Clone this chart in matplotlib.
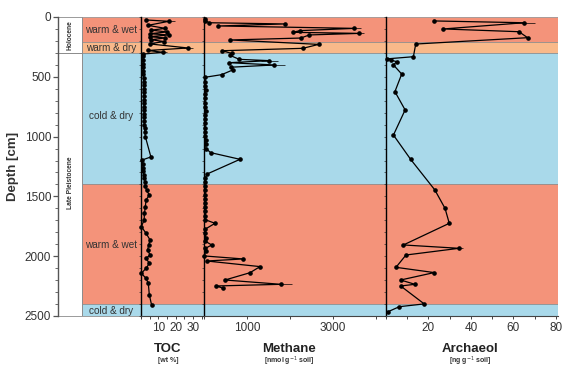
import matplotlib
matplotlib.use("Agg")
import matplotlib.pyplot as plt
from matplotlib.patches import Rectangle
from matplotlib.ticker import FixedLocator, MultipleLocator, NullFormatter

plt.rcParams['font.family'] = ['Liberation Sans', 'DejaVu Sans']

# ---- climate zones ----
zone_top = [0, 210, 300, 1400, 2400]
zone_bottom = [210, 300, 1400, 2400, 2500]
zone_label = ['warm & wet', 'warm & dry', 'cold & dry', 'warm & wet', 'cold & dry']
zone_label_depth = [110, 258, 830, 1905, 2455]
zone_color = ['#F4937A', '#F9B98A', '#A9D9EA', '#F4937A', '#A9D9EA']

era_label = ['Holocene', 'Late Pleistocene']
era_top = [0, 300]
era_bottom = [300, 2500]
era_label_depth = [150, 1390]

# ---- TOC [wt %] ----
toc_depth = [25, 36, 70, 95, 110, 125, 140, 150, 165, 175, 190, 205, 225, 259, 280, 295, 310,
             330, 360, 390, 420, 450, 480, 510, 540, 570, 600, 630, 660, 690, 720, 750, 780,
             810, 840, 870, 900, 930, 960, 1000, 1170, 1195, 1230, 1260, 1290, 1320, 1350, 1377,
             1413, 1450, 1488, 1530, 1586, 1641, 1697, 1753, 1808, 1864, 1906, 1948, 1990, 2018,
             2059, 2100, 2143, 2185, 2227, 2324, 2408]
toc_val = [3.0, 16.0, 4.0, 14.0, 6.0, 15.0, 5.0, 16.0, 5.0, 14.0, 6.0, 13.0, 5.0, 27.0, 4.0, 12.5, 1.2,
           1.0, 1.1, 1.2, 1.3, 1.3, 1.4, 1.5, 1.5, 1.6, 1.7, 1.6, 1.7, 1.8, 1.8, 1.7, 1.8,
           1.9, 1.9, 2.0, 2.0, 2.1, 2.2, 2.5, 5.7, 0.8, 1.0, 1.2, 1.4, 1.6, 1.8, 2.5,
           2.5, 3.2, 4.8, 2.9, 2.5, 2.0, 1.8, 0.2, 2.9, 5.2, 4.4, 3.8, 5.2, 2.9,
           4.8, 3.0, 0.2, 2.9, 4.2, 4.8, 6.1]
toc_err_depth = [36, 259, 295]
toc_err = [3.5, 3.0, 2.5]

# ---- Methane [nmol g-1 soil] ----
met_depth = [20, 31, 48, 58, 75, 95, 114, 128, 137, 150, 176, 192, 229, 262, 282, 304, 320,
             354, 365, 382, 401, 420, 443, 482, 504, 540, 575, 610, 645, 680, 715, 750, 785,
             820, 855, 890, 925, 960, 995, 1030, 1065, 1100, 1134, 1190, 1312, 1345, 1380,
             1415, 1450, 1485, 1520, 1555, 1590, 1625, 1660, 1695, 1725, 1775, 1810, 1845,
             1875, 1906, 1935, 1960, 1998, 2023, 2040, 2087, 2138, 2199, 2235, 2249, 2268]
met_val = [20, 25, 124, 1884, 333, 3496, 2233, 2063, 3612, 2450, 2250, 605, 2668, 2296, 411, 644, 600,
           821, 1519, 588, 1628, 620, 667, 411, 25, 30, 28, 35, 30, 32, 28, 30, 35,
           30, 33, 28, 30, 32, 30, 35, 40, 45, 155, 837, 77, 30, 28,
           25, 30, 28, 32, 30, 28, 30, 32, 30, 256, 23, 30, 35,
           30, 179, 30, 35, 10, 914, 62, 1303, 1070, 488, 1790, 279, 449]
met_err_depth = [95, 137, 365, 401, 2235]
met_err = [150, 120, 200, 250, 250]

# ---- Archaeol [ng g-1 soil] ----
arc_depth = [33, 48, 100, 123, 173, 226, 332, 350, 362, 373, 401, 477, 624, 777, 987, 1190,
             1446, 1600, 1725, 1906, 1934, 1990, 2093, 2137, 2199, 2235, 2249, 2399, 2422, 2463]
arc_val = [22.7, 65.0, 27.0, 62.6, 66.7, 14.0, 12.9, 0.5, 2.5, 5.0, 3.5, 7.4, 4.2, 9.0, 3.5, 11.6,
           23.0, 27.8, 29.8, 8.2, 34.4, 9.4, 4.7, 22.7, 6.9, 13.6, 6.9, 18.0, 6.3, 1.1]
arc_err_depth = [48, 1934]
arc_err = [5.0, 2.0]

# ---- figure layout (pixel helpers) ----
W, H = 563, 367
TOP, BOT = 17, 316
fig = plt.figure(figsize=(W / 100, H / 100), dpi=100)


def box(x0, x1):
    return [x0 / W, 1 - BOT / H, (x1 - x0) / W, (BOT - TOP) / H]


AX_L, BAND_L, AX_R = 58, 82, 558
ax = fig.add_axes(box(AX_L, AX_R))
ax.set_xlim(AX_L, AX_R)
ax.set_ylim(2500, 0)

for t, b, c in zip(zone_top, zone_bottom, zone_color):
    ax.add_patch(Rectangle((BAND_L, t), AX_R - BAND_L, b - t, facecolor=c,
                           edgecolor='#8a8a8a', linewidth=0.5, zorder=0))
for lab, d in zip(zone_label, zone_label_depth):
    ax.text(111, d, lab, ha='center', va='center', fontsize=7.2, color='#333333')

for t, b in zip(era_top, era_bottom):
    ax.add_patch(Rectangle((AX_L, t), BAND_L - AX_L, b - t, facecolor='none',
                           edgecolor='#8a8a8a', linewidth=0.6, zorder=1))
for lab, d in zip(era_label, era_label_depth):
    ax.text(70, d, lab, ha='center', va='center', rotation=90, fontsize=4.8,
            fontweight='bold', color='#333333')

ax.set_xticks([])
for s in ['top', 'right', 'bottom']:
    ax.spines[s].set_visible(False)
ax.spines['left'].set_color('#555555')
ax.spines['left'].set_linewidth(1.0)
ax.yaxis.set_major_locator(MultipleLocator(500))
ax.yaxis.set_minor_locator(MultipleLocator(100))
ax.tick_params(axis='y', which='major', direction='out', length=3.5, width=0.9,
               colors='#555555', labelsize=8.5, labelcolor='#333333', pad=1.5)
ax.tick_params(axis='y', which='minor', direction='out', length=2, width=0.6, colors='#555555')
ax.set_ylabel('Depth [cm]', fontsize=9.5, fontweight='bold', color='#333333', labelpad=4)
ax.plot([AX_L, AX_R], [2500, 2500], color='#8a8a8a', lw=0.6, clip_on=False)


def panel(x0, x1, xmax, ticks, labelled):
    a = fig.add_axes(box(x0, x1))
    a.patch.set_visible(False)
    a.set_xlim(0, xmax)
    a.set_ylim(2500, 0)
    for s in ['top', 'right']:
        a.spines[s].set_visible(False)
    a.spines['left'].set_color('black')
    a.spines['left'].set_linewidth(1.0)
    a.spines['bottom'].set_color('#444444')
    a.spines['bottom'].set_linewidth(0.8)
    a.yaxis.set_major_locator(MultipleLocator(500))
    a.yaxis.set_minor_locator(MultipleLocator(100))
    a.yaxis.set_major_formatter(NullFormatter())
    a.tick_params(axis='y', which='both', direction='out', length=1.8, width=0.5, colors='#333333')
    a.xaxis.set_major_locator(FixedLocator(ticks))
    a.set_xticklabels([str(t) if t in labelled else '' for t in ticks])
    a.tick_params(axis='x', direction='out', length=2.5, width=0.7, colors='#444444',
                  labelsize=8.5, labelcolor='#333333', pad=2)
    return a


ax_toc = panel(141, 203.5, 36, [0, 5, 10, 15, 20, 25, 30, 35], [10, 20, 30])
ax_met = panel(204, 386, 4233, [0, 1000, 2000, 3000, 4000], [1000, 3000])
ax_arc = panel(386, AX_R, 81, [0, 10, 20, 30, 40, 50, 60, 70, 80], [20, 40, 60, 80])

style = dict(color='black', lw=0.9, marker='o', ms=2.3, clip_on=False, zorder=3)
for a, v, d, ed, ee in [(ax_toc, toc_val, toc_depth, toc_err_depth, toc_err),
                        (ax_met, met_val, met_depth, met_err_depth, met_err),
                        (ax_arc, arc_val, arc_depth, arc_err_depth, arc_err)]:
    a.plot(v, d, **style)
    idx = [d.index(x) for x in ed]
    a.errorbar([v[i] for i in idx], ed, xerr=ee, fmt='none', ecolor='black',
               elinewidth=0.5, capsize=0, zorder=3)

# panel titles and units
titles = [(168, 'TOC', '[wt %]'),
          (289, 'Methane', '[nmol g$^{-1}$ soil]'),
          (470, 'Archaeol', '[ng g$^{-1}$ soil]')]
for x, t, u in titles:
    fig.text(x / W, 1 - 349 / H, t, ha='center', va='center', fontsize=9.5,
             fontweight='bold', color='#222222')
    fig.text(x / W, 1 - 361 / H, u, ha='center', va='center', fontsize=5,
             fontweight='bold', color='#333333')

fig.savefig('out.png', dpi=100, facecolor='white')
